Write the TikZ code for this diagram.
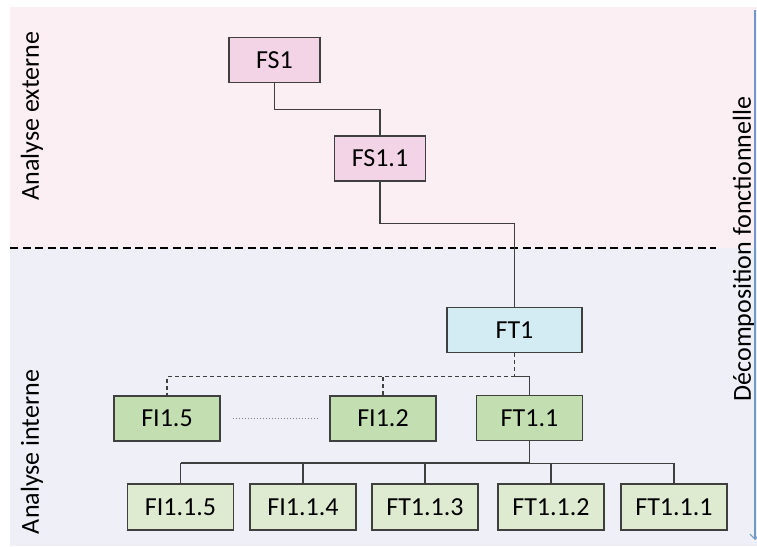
\documentclass[tikz,border=0pt]{standalone}
\usepackage{fontspec}
\setmainfont{Carlito}
\usetikzlibrary{arrows.meta, positioning, calc}

\definecolor{extbg}{HTML}{FCEFF4}
\definecolor{intbg}{HTML}{EEEFF7}
\definecolor{fsfill}{HTML}{F2D4E6}
\definecolor{ftfill}{HTML}{D3ECF4}
\definecolor{lvltwo}{HTML}{C3DFB2}
\definecolor{lvlthree}{HTML}{DFEBD0}
\definecolor{edge}{HTML}{3F3F3F}
\definecolor{arrowblue}{HTML}{6F97C8}

\begin{document}
\begin{tikzpicture}[
    x=1pt, y=-1pt,
    box/.style={rectangle, draw=edge, line width=1.4pt, minimum height=45pt,
        inner sep=0pt, font=\fontsize{26}{30}\selectfont, text=black},
    service/.style={box, fill=fsfill, minimum width=91pt},
    technical/.style={box, fill=ftfill, minimum width=135pt},
    first/.style={box, fill=lvltwo, minimum width=106pt},
    second/.style={box, fill=lvlthree, minimum width=106pt, minimum height=46pt},
    link/.style={draw=edge, line width=1.2pt},
    side/.style={rotate=90, font=\fontsize{26}{30}\selectfont, text=black}
]
    \useasboundingbox (0,0) rectangle (757,546);
    % backgrounds
    \fill[extbg] (10,7) rectangle (757,248);
    \fill[intbg] (10,248) rectangle (757,546);
    \draw[line width=2.6pt, dash pattern=on 8pt off 4.5pt] (10,248) -- (716,248);

    \node[side] (ext) at (32,116) {Analyse externe};
    \node[side] (int) at (32,452) {Analyse interne};
    \node[side] (deco) at (744,249) {Décomposition fonctionnelle};
    \draw[arrowblue, line width=1.2pt, -{Straight Barb[length=5pt]}] (755,10) -- (755,540);

    \node[service] (fs1) at (274.5,60) {FS1};
    \node[service] (fs11) at (380,158.5) {FS1.1};
    \node[technical] (ft1) at (514.5,330) {FT1};

    \node[first] (fi15) at (167,418.5) {FI1.5};
    \node[first] (fi12) at (383,418.5) {FI1.2};
    \node[first] (ft11) at (529.5,418) {FT1.1};

    \node[second] (fi115) at (180.5,507) {FI1.1.5};
    \node[second] (fi114) at (303,507) {FI1.1.4};
    \node[second] (ft113) at (425,507) {FT1.1.3};
    \node[second] (ft112) at (551,507) {FT1.1.2};
    \node[second] (ft111) at (674,507) {FT1.1.1};

    \draw[link] (fs1.south) -- ++(0,26) -| (fs11.north);
    \draw[link] (fs11.south) -- ++(0,42) -| (ft1.north);

    \draw[link, dash pattern=on 4pt off 3pt] (ft1.south) -- ++(0,23) coordinate (split);
    \draw[link, dash pattern=on 4pt off 3pt] (split) -| (fi15.north);
    \draw[link, dash pattern=on 4pt off 3pt] (fi12.north) -- (fi12.north |- split);
    \draw[link] (split) -| (ft11.north);
    \draw[gray, line width=1pt, dotted] ([xshift=12pt]fi15.east) -- ([xshift=-12pt]fi12.west);

    \draw[link, line width=1.8pt] (ft11.south) -- ++(0,22) coordinate (bus);
    \draw[link, line width=1.6pt] (fi115.north |- bus) -- (bus);
    \draw[link] (bus) -- (ft111.north |- bus);
    \foreach \n in {fi115, fi114, ft113, ft112, ft111}
        \draw[link] (\n.north) -- (\n.north |- bus);
\end{tikzpicture}
\end{document}
